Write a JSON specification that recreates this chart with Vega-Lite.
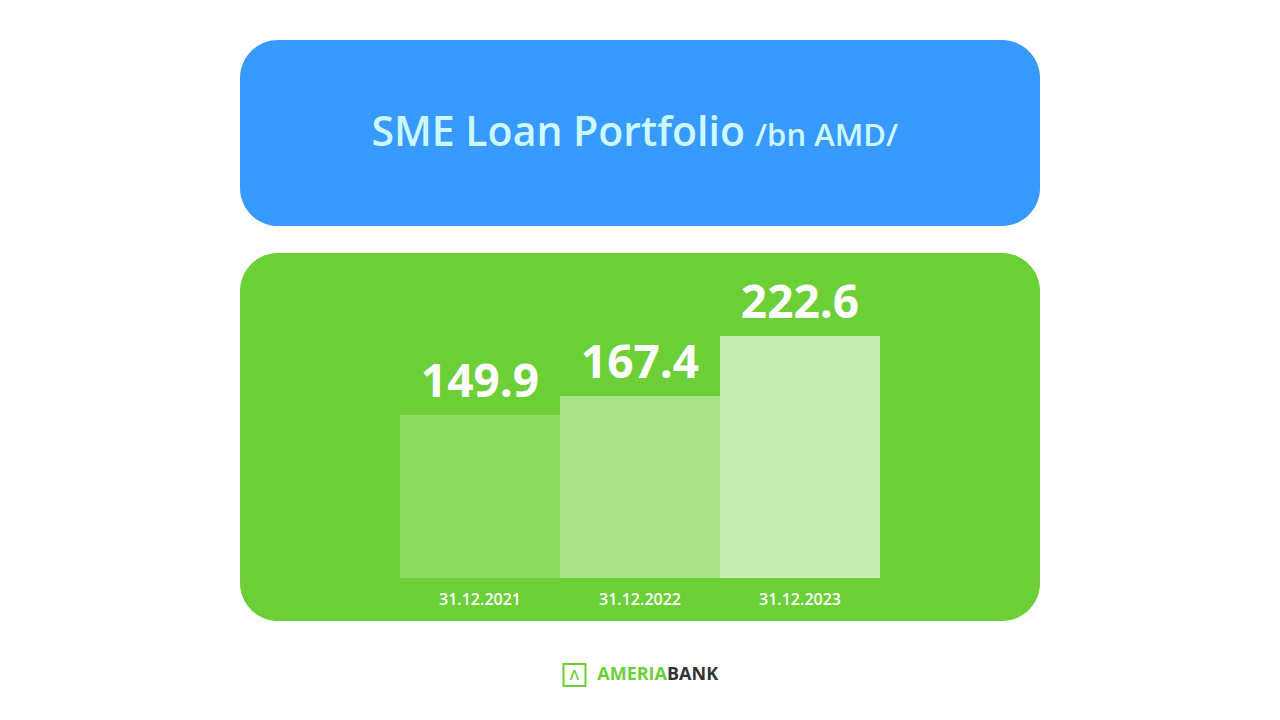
{
  "$schema": "https://vega.github.io/schema/vega-lite/v6.json",
  "background": "white",
  "padding": {"left": 240, "top": 40, "right": 240, "bottom": 0},
  "spacing": 27,
  "config": {"view": {"stroke": null}, "font": "Open Sans"},
  "vconcat": [
    {
      "width": 800,
      "height": 186,
      "view": {"fill": "#3899ff", "cornerRadius": 38, "stroke": null},
      "data": {"values": [{"main": "SME Loan Portfolio", "unit": "/bn AMD/"}]},
      "layer": [
        {
          "mark": {"type": "text", "align": "right", "baseline": "alphabetic", "font": "Open Sans", "fontSize": 41, "fontWeight": 600, "color": "#ccf9ff"},
          "encoding": {
            "text": {"field": "main"},
            "x": {"datum": 505, "scale": {"domain": [0, 800]}, "axis": null},
            "y": {"datum": 80, "scale": {"domain": [0, 186]}, "axis": null}
          }
        },
        {
          "mark": {"type": "text", "align": "left", "baseline": "alphabetic", "font": "Open Sans", "fontSize": 31, "fontWeight": 600, "color": "#ccf9ff"},
          "encoding": {
            "text": {"field": "unit"},
            "x": {"datum": 515, "scale": {"domain": [0, 800]}, "axis": null},
            "y": {"datum": 80, "scale": {"domain": [0, 186]}, "axis": null}
          }
        }
      ]
    },
    {
      "width": 800,
      "height": 368,
      "view": {"fill": "#6ccf38", "cornerRadius": 38, "stroke": null},
      "data": {"values": [
        {"date": "31.12.2021", "value": 149.9},
        {"date": "31.12.2022", "value": 167.4},
        {"date": "31.12.2023", "value": 222.6}
      ]},
      "encoding": {
        "x": {
          "field": "date", "type": "nominal", "sort": null,
          "scale": {"paddingInner": 0, "paddingOuter": 1.02, "round": false},
          "axis": {"orient": "bottom", "offset": -43, "domain": false, "ticks": false, "title": null, "labelAngle": 0, "labelFontSize": 16, "labelFontWeight": 600, "labelColor": "white", "labelPadding": 13, "labelFont": "Open Sans", "grid": false}
        }
      },
      "layer": [
        {
          "mark": {"type": "bar"},
          "encoding": {
            "y": {"field": "value", "type": "quantitative", "scale": {"domain": [-39.6, 299], "nice": false, "zero": false}, "axis": null},
            "y2": {"datum": 0},
            "color": {"field": "date", "type": "nominal", "sort": null, "scale": {"range": ["#8cdb62", "#a9e388", "#c8ebaf"]}, "legend": null}
          }
        },
        {
          "mark": {"type": "text", "baseline": "alphabetic", "dy": -18, "font": "Open Sans", "fontSize": 46, "fontWeight": "bold", "color": "white"},
          "encoding": {
            "y": {"field": "value", "type": "quantitative"},
            "text": {"field": "value", "type": "quantitative", "format": ".1f"}
          }
        }
      ]
    },
    {
      "width": 800,
      "height": 54,
      "view": {"stroke": null},
      "data": {"values": [{"icon": "Λ", "first": "AMERIA", "second": "BANK"}]},
      "layer": [
        {
          "mark": {"type": "point", "shape": "square", "filled": false, "size": 480, "stroke": "#6ccf38", "strokeWidth": 2, "opacity": 1},
          "encoding": {
            "x": {"datum": 334.5, "scale": {"domain": [0, 800]}, "axis": null},
            "y": {"datum": 27, "scale": {"domain": [0, 54]}, "axis": null}
          }
        },
        {
          "mark": {"type": "text", "align": "center", "baseline": "middle", "font": "Open Sans", "fontSize": 15, "fontWeight": 600, "color": "#6ccf38"},
          "encoding": {
            "text": {"field": "icon"},
            "x": {"datum": 334.5, "scale": {"domain": [0, 800]}, "axis": null},
            "y": {"datum": 27, "scale": {"domain": [0, 54]}, "axis": null}
          }
        },
        {
          "mark": {"type": "text", "align": "right", "baseline": "middle", "font": "Open Sans", "fontSize": 18, "fontWeight": "bold", "color": "#6ccf38"},
          "encoding": {
            "text": {"field": "first"},
            "x": {"datum": 427, "scale": {"domain": [0, 800]}, "axis": null},
            "y": {"datum": 27, "scale": {"domain": [0, 54]}, "axis": null}
          }
        },
        {
          "mark": {"type": "text", "align": "left", "baseline": "middle", "font": "Open Sans", "fontSize": 18, "fontWeight": "bold", "color": "#333333"},
          "encoding": {
            "text": {"field": "second"},
            "x": {"datum": 427, "scale": {"domain": [0, 800]}, "axis": null},
            "y": {"datum": 27, "scale": {"domain": [0, 54]}, "axis": null}
          }
        }
      ]
    }
  ]
}
